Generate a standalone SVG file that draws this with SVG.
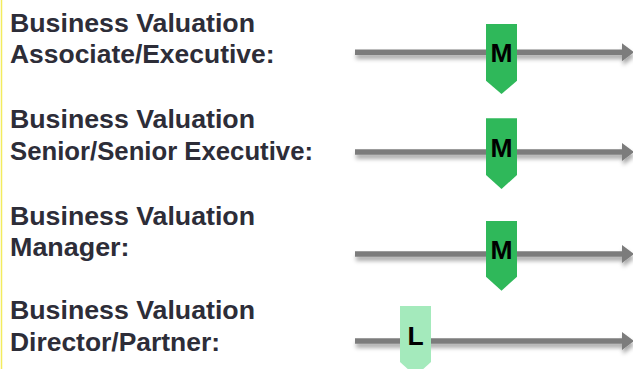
<svg xmlns="http://www.w3.org/2000/svg" width="633" height="369" viewBox="0 0 633 369">
<style>
.lbl{font-family:"Liberation Sans",Arial,sans-serif;font-weight:bold;font-size:25.8px;fill:#2d2d38}
.mk{font-family:"Liberation Sans",Arial,sans-serif;font-weight:bold;font-size:26.5px;fill:#000;text-anchor:middle}
.line{stroke:#7b7b7b;stroke-width:5.5;fill:none}
.head{fill:#7b7b7b}
.m{fill:#2fb85a}
.l{fill:#a4eabc}
</style>
<defs>
<filter id="sh" x="-5%" y="-100%" width="110%" height="400%">
<feDropShadow dx="1" dy="4" stdDeviation="2.2" flood-color="#000" flood-opacity="0.35"/>
</filter>
</defs>
<rect width="633" height="369" fill="#fff"/>
<line x1="1.5" y1="0" x2="1.5" y2="369" stroke="#f3ec5e" stroke-width="1.5"/>
<g id="labels">
<g id="label-associate"><text class="lbl" x="10" y="31.5" textLength="245" lengthAdjust="spacingAndGlyphs">Business Valuation</text><text class="lbl" x="10" y="63" textLength="264.5" lengthAdjust="spacingAndGlyphs">Associate/Executive:</text></g>
<g id="label-senior"><text class="lbl" x="10" y="127.5" textLength="245" lengthAdjust="spacingAndGlyphs">Business Valuation</text><text class="lbl" x="10" y="160" textLength="303" lengthAdjust="spacingAndGlyphs">Senior/Senior Executive:</text></g>
<g id="label-manager"><text class="lbl" x="10" y="224.5" textLength="245" lengthAdjust="spacingAndGlyphs">Business Valuation</text><text class="lbl" x="10" y="256" textLength="119.5" lengthAdjust="spacingAndGlyphs">Manager:</text></g>
<g id="label-director"><text class="lbl" x="10" y="319.3" textLength="245" lengthAdjust="spacingAndGlyphs">Business Valuation</text><text class="lbl" x="10" y="350.7" textLength="210" lengthAdjust="spacingAndGlyphs">Director/Partner:</text></g>
</g>
<g id="connectors" filter="url(#sh)">
<g><line class="line" x1="355" y1="52.3" x2="624" y2="52.3"/><polygon class="head" points="622,43.3 634,52.3 622,61.3"/></g>
<g><line class="line" x1="355" y1="152" x2="624" y2="152"/><polygon class="head" points="622,143 634,152 622,161"/></g>
<g><line class="line" x1="355" y1="254" x2="624" y2="254"/><polygon class="head" points="622,245 634,254 622,263"/></g>
<g><line class="line" x1="355" y1="341" x2="624" y2="341"/><polygon class="head" points="622,332 634,341 622,350"/></g>
</g>
<g id="marker-associate"><polygon class="m" points="486,24 517,24 517,80.7 501.5,94 486,80.7"/><text class="mk" x="501.5" y="62.3">M</text></g>
<g id="marker-senior"><polygon class="m" points="486,118.3 517,118.3 517,175 501.5,189 486,175"/><text class="mk" x="501.5" y="156.7">M</text></g>
<g id="marker-manager"><polygon class="m" points="486,221 517,221 517,276.7 501.5,290.7 486,276.7"/><text class="mk" x="501.5" y="259.3">M</text></g>
<g id="marker-director"><polygon class="l" points="400,306 431,306 431,362 415.5,376 400,362"/><text class="mk" x="415.5" y="345">L</text></g>
</svg>
